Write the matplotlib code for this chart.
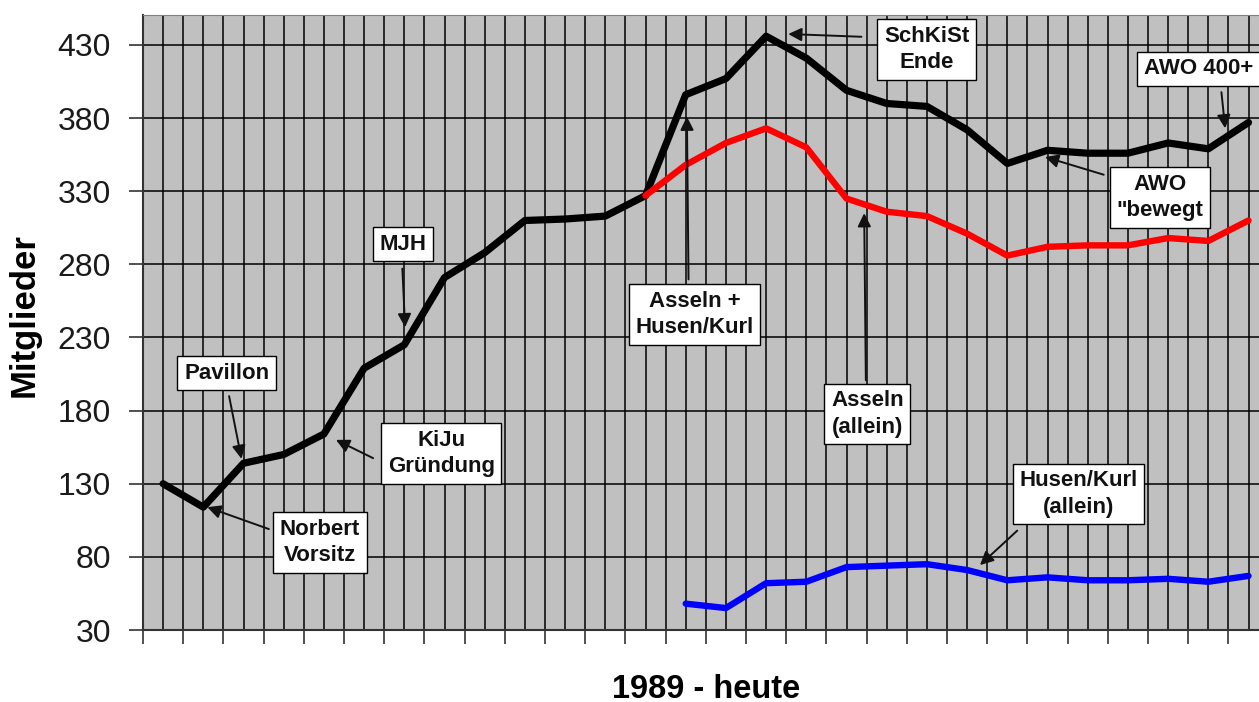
import matplotlib
matplotlib.use("Agg")
import matplotlib.pyplot as plt
import numpy as np

# ---------------- data ----------------
years = list(range(1989, 2017))  # 28 categories, no visible labels
gesamt = [130, 114, 144, 150, 164, 209, 225, 271, 288, 310, 311, 313, 327, 396,
          407, 436, 421, 399, 390, 388, 372, 349, 358, 356, 356, 363, 359, 377]
asseln = [np.nan] * 12 + [327, 348, 363, 373, 360, 325, 316, 313, 301, 286,
                          292, 293, 293, 298, 296, 310]
husen = [np.nan] * 13 + [48, 45, 62, 63, 73, 74, 75, 71, 64, 66, 64, 64, 65, 63, 67]
y_ticks = [30, 80, 130, 180, 230, 280, 330, 380, 430]

annot_texts = ["Pavillon", "Norbert\nVorsitz", "KiJu\nGründung", "MJH",
               "Asseln +\nHusen/Kurl", "SchKiSt\nEnde", "AWO 400+",
               "AWO\n\"bewegt", "Asseln\n(allein)", "Husen/Kurl\n(allein)"]

# ---------------- layout (annotation positions in data coords) ----------------
annot_tip = [(1.95, 147), (1.1, 114), (4.3, 160), (6.02, 237), (13.03, 381),
             (15.55, 437.5), (26.42, 373), (21.94, 353.4), (17.44, 315), (20.32, 74.4)]
annot_box = [(1.58, 205.7), (3.905, 89.8), (6.92, 150.7), (5.97, 293.9), (13.22, 245.7),
             (18.99, 426.9), (25.75, 413.6), (24.79, 325.7), (17.52, 177.7), (22.77, 123)]
annot_relpos = [(0.5, 0), (0, 0.7), (0, 0.25), (0.47, 0), (0.45, 1),
                (0, 0.75), (0.7, 0), (0, 0.9), (0.48, 1), (0.1, 0)]
annot_shrink = [4, 3, 6, 5, 3, 11, 4, 4, 2, 6]

plt.rcParams['font.family'] = ['Liberation Sans', 'DejaVu Sans']

W, H = 1259, 702
fig = plt.figure(figsize=(W / 100, H / 100), dpi=100)
left_px, right_px, top_px, bottom_px = 143, 1268.6, 15, 630
ax = fig.add_axes([left_px / W, 1 - bottom_px / H,
                   (right_px - left_px) / W, (bottom_px - top_px) / H])
ax.set_facecolor('#c0c0c0')

x = np.arange(len(years))
ax.plot(x, gesamt, color='black', lw=5.2, solid_joinstyle='round', solid_capstyle='round', zorder=3)
ax.plot(x, asseln, color='#ff0000', lw=4.6, solid_joinstyle='round', solid_capstyle='round', zorder=3)
ax.plot(x, husen, color='#0000ff', lw=4.6, solid_joinstyle='round', solid_capstyle='round', zorder=3)

ax.set_xlim(-0.5, len(years) - 0.5)
ax.set_ylim(30, 450.5)
ax.set_yticks(y_ticks)
ax.set_yticklabels([str(v) for v in y_ticks], fontsize=23, color='#1a1a1a')
ax.set_xticks(np.arange(-0.5, len(years), 1.0))
ax.set_xticklabels([])
ax.set_xticks(x, minor=True)
ax.set_axisbelow(True)
ax.grid(axis='x', which='both', color='black', lw=1.1)
ax.grid(axis='y', which='major', color='black', lw=1.1)
ax.tick_params(axis='x', which='major', direction='out', length=10, width=1.2, color='#333333')
ax.tick_params(axis='x', which='minor', length=0)
ax.tick_params(axis='y', direction='out', length=10, width=1.2, color='#333333', pad=13)

for s in ['left', 'bottom']:
    ax.spines[s].set_color('#333333')
    ax.spines[s].set_linewidth(1.5)
ax.spines['top'].set_color('#808080')
ax.spines['top'].set_linewidth(0.8)
ax.spines['right'].set_visible(False)

ax.set_ylabel('Mitglieder', fontsize=25, fontweight='bold')
ax.yaxis.label.set_va('center')
ax.yaxis.set_label_coords(-0.1057, 0.512)
ax.set_xlabel('1989 - heute', fontsize=23.5, fontweight='bold')
ax.xaxis.label.set_va('center')
ax.xaxis.set_label_coords(0.5, -0.096)

for txt, tip, box, rp, sh in zip(annot_texts, annot_tip, annot_box, annot_relpos, annot_shrink):
    ax.annotate(txt, xy=tip, xytext=box, textcoords='data',
                ha='center', va='center', fontsize=16, fontweight='bold',
                linespacing=1.35, color='#111111', zorder=5,
                bbox=dict(boxstyle='square,pad=0.3', fc='white', ec='black', lw=1),
                arrowprops=dict(arrowstyle='-|>', color='#111111', lw=1.4,
                                mutation_scale=20, shrinkA=sh, shrinkB=0, relpos=rp))

fig.savefig('out.png', dpi=100)
